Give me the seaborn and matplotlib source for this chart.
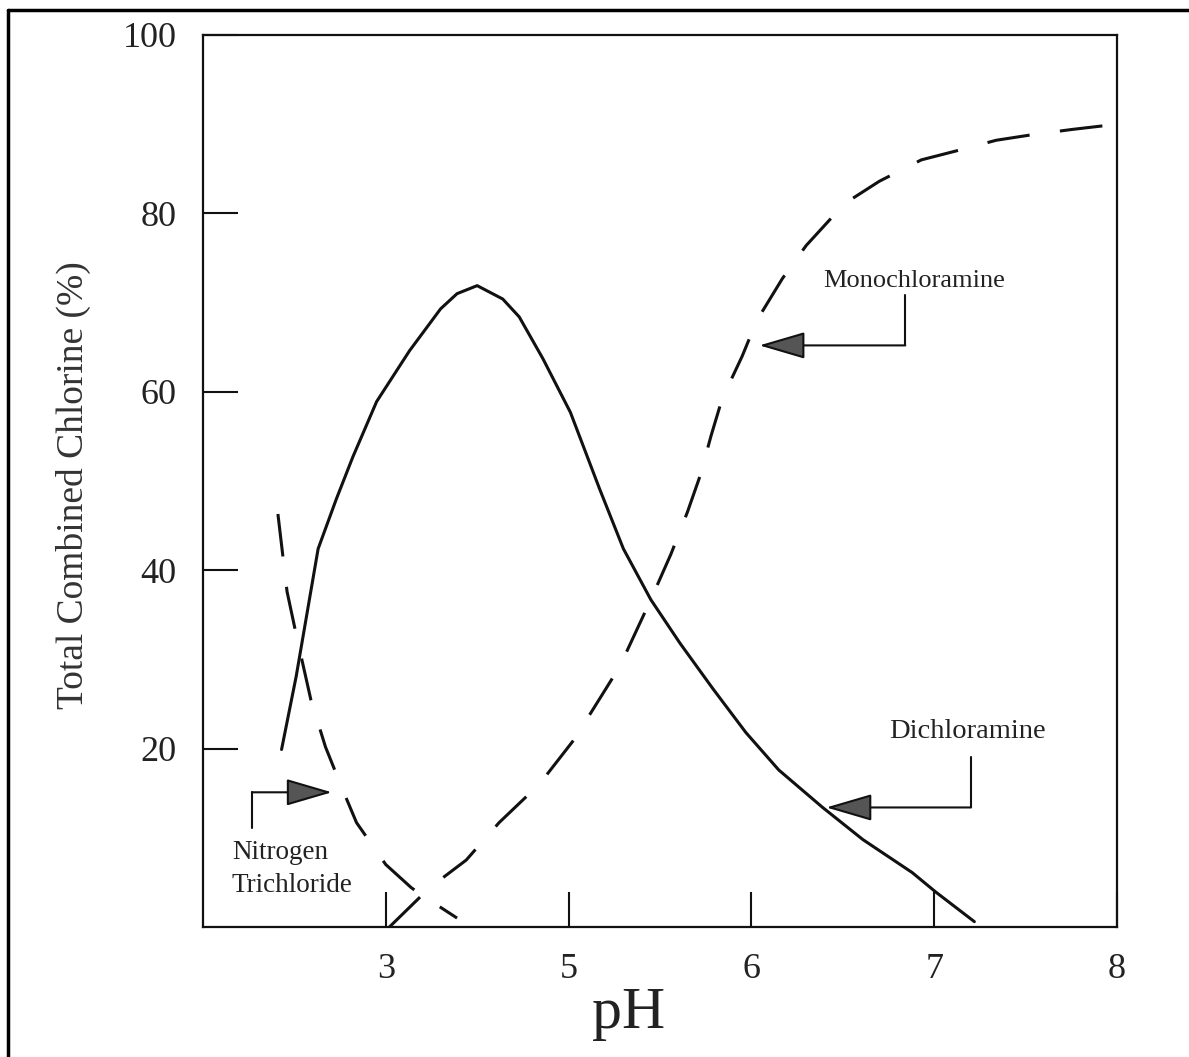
import pandas as pd
import matplotlib.pyplot as plt
import seaborn as sns
from matplotlib.lines import Line2D

# x is the tick position on the printed axis (2 = left edge, 7 = right edge);
# the original figure labels those ticks 3, 5, 6, 7, 8
tick_pos = [3, 4, 5, 6, 7]
tick_labels = ["3", "5", "6", "7", "8"]
y_ticks = [20, 40, 60, 80, 100]

di_x = [2.43, 2.51, 2.63, 2.73, 2.82, 2.95, 3.13, 3.30, 3.39, 3.50, 3.64, 3.73, 3.86,
        4.01, 4.17, 4.30, 4.45, 4.61, 4.79, 4.97, 5.15, 5.39, 5.61, 5.88, 6.01, 6.22]
di_y = [19.9, 28.1, 42.4, 48.0, 52.7, 58.9, 64.6, 69.3, 71.0, 71.9, 70.4, 68.4, 63.7,
        57.7, 49.1, 42.4, 36.7, 31.8, 26.7, 21.8, 17.6, 13.4, 9.8, 6.1, 3.9, 0.6]

mono_x = [3.02, 3.24, 3.44, 3.62, 3.84, 4.03, 4.14, 4.28, 4.45, 4.56, 4.65, 4.72, 4.78,
          4.84, 4.95, 5.03, 5.17, 5.30, 5.51, 5.70, 5.93, 6.12, 6.34, 6.53, 6.75, 6.96]
mono_y = [0.0, 4.4, 7.5, 11.7, 16.0, 21.0, 24.6, 29.2, 36.7, 41.8, 46.5, 50.6, 55.1,
          59.2, 64.0, 68.0, 72.7, 76.4, 81.1, 83.6, 86.0, 87.0, 88.2, 88.8, 89.4, 89.9]

ncl3_x = [2.41, 2.46, 2.51, 2.59, 2.67, 2.76, 2.84, 3.00, 3.14, 3.21, 3.39]
ncl3_y = [46.3, 37.6, 32.8, 25.5, 20.2, 15.6, 11.7, 7.0, 4.4, 3.4, 1.0]

df = pd.concat([
    pd.DataFrame({"ph": di_x, "pct": di_y, "species": "Dichloramine"}),
    pd.DataFrame({"ph": mono_x, "pct": mono_y, "species": "Monochloramine"}),
    pd.DataFrame({"ph": ncl3_x, "pct": ncl3_y, "species": "Nitrogen Trichloride"}),
], ignore_index=True)

sns.set_theme(style="white")
plt.rcParams['font.family'] = ['Liberation Serif', 'DejaVu Serif']

ink = "#111111"
fig = plt.figure(figsize=(11.89, 10.57), dpi=100)
ax = fig.add_axes([0.1707, 0.1230, 0.7687, 0.8439])

sns.lineplot(data=df, x="ph", y="pct", style="species",
             dashes={"Dichloramine": "", "Monochloramine": (14, 10),
                     "Nitrogen Trichloride": (14, 10)},
             color=ink, linewidth=2.2, estimator=None, sort=False,
             legend=False, ax=ax)

ax.set_xlim(2, 7)
ax.set_ylim(0, 100)
ax.set_xticks(tick_pos)
ax.set_xticklabels(tick_labels)
ax.set_yticks(y_ticks)
ax.tick_params(bottom=True, left=True, direction="in", length=25, width=1.5,
               color=ink, labelcolor="#222222", labelsize=26, pad=19)
for s in ax.spines.values():
    s.set_visible(True)
    s.set_color(ink)
    s.set_linewidth(1.6)

ax.set_xlabel("pH", fontsize=43, color="#222222")
ax.xaxis.set_label_coords(0.466, -0.067)
ax.set_ylabel("Total Combined Chlorine (%)", fontsize=27, color="#333333")
ax.yaxis.set_label_coords(-0.1225, 0.495)


def callout(tip, corner, start_y):
    ax.plot([corner[0], corner[0]], [start_y, corner[1]], color=ink, lw=1.5)
    ax.annotate("", xy=tip, xytext=corner,
                arrowprops=dict(arrowstyle="-|>,head_length=2.9,head_width=0.85",
                                mutation_scale=10, fc="#555555", ec=ink, lw=1.5,
                                shrinkA=0, shrinkB=0))


callout((5.044, 65.2), (5.842, 65.2), 70.8)
ax.text(5.891, 72.4, "Monochloramine", fontsize=19, ha="center", va="center", color="#222222")

callout((5.41, 13.4), (6.202, 13.4), 19.1)
ax.text(6.18, 21.9, "Dichloramine", fontsize=20.5, ha="center", va="center", color="#222222")

callout((2.705, 15.1), (2.268, 15.1), 11.1)
ax.text(2.158, 8.3, "Nitrogen", fontsize=19.5, ha="left", va="center", color="#222222")
ax.text(2.158, 4.7, "Trichloride", fontsize=19.5, ha="left", va="center", color="#222222")

# scan frame (top and left edges visible)
fig.add_artist(Line2D([8 / 1189, 1.0], [1 - 10 / 1057] * 2, color="black", lw=2.5))
fig.add_artist(Line2D([8 / 1189] * 2, [0.0, 1 - 10 / 1057], color="black", lw=2.5))

fig.savefig("out.png", dpi=100)
